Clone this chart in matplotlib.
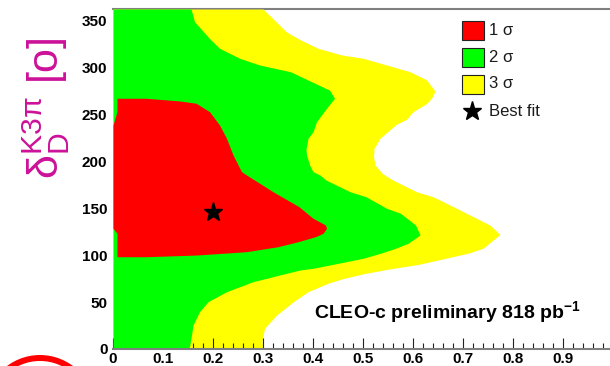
import matplotlib
matplotlib.use('Agg')
import matplotlib.pyplot as plt
import numpy as np
from matplotlib.patches import Rectangle, Ellipse
from matplotlib.lines import Line2D

plt.rcParams['font.family'] = ['Liberation Sans', 'DejaVu Sans']
plt.rcParams['mathtext.fontset'] = 'custom'
plt.rcParams['mathtext.rm'] = 'Liberation Sans'
plt.rcParams['mathtext.bf'] = 'Liberation Sans:bold'
plt.rcParams['mathtext.it'] = 'Liberation Sans:italic'
plt.rcParams['mathtext.sf'] = 'Liberation Sans'

# ---- data: contour boundaries (x-extent vs delta) ----
yellow_y = [0, 7.7, 22, 36, 50, 61, 70, 75, 80, 85, 90, 96.6, 102, 107.3, 112.6, 122,
            132, 144.6, 150, 162.3, 167.6, 180, 186.5, 196, 205, 214, 224.6, 230.6,
            239.6, 244.8, 253, 261.6, 267.3, 275, 287, 295.6, 302.8, 310, 313.5,
            320.6, 327, 331, 338, 349, 362.5]
yellow_x = [0.30, 0.298, 0.303, 0.327, 0.36, 0.39, 0.43, 0.46, 0.50, 0.55, 0.61, 0.665,
            0.71, 0.74, 0.752, 0.774, 0.754, 0.707, 0.687, 0.64, 0.607, 0.56, 0.54,
            0.524, 0.521, 0.522, 0.534, 0.547, 0.567, 0.587, 0.60, 0.627, 0.637, 0.644,
            0.627, 0.594, 0.547, 0.50, 0.457, 0.41, 0.385, 0.37, 0.347, 0.326, 0.30]

green_y = [0, 2.3, 14.8, 25.5, 39.7, 50.3, 61, 71.7, 75.6, 78.8, 84.1, 86, 89.5, 96.6,
           102, 107.3, 112.6, 121.5, 132.1, 144.6, 150, 162.3, 167.6, 180, 185.4, 189,
           195, 206.8, 213, 224.6, 231.6, 242.3, 256.6, 267.3, 276, 285, 295.6, 302.8,
           310, 320.6, 331, 349, 362.5]
green_x = [0.151, 0.153, 0.157, 0.16, 0.173, 0.19, 0.227, 0.28, 0.31, 0.333, 0.374, 0.40,
           0.434, 0.50, 0.535, 0.565, 0.59, 0.614, 0.605, 0.575, 0.547, 0.506, 0.474,
           0.426, 0.414, 0.40, 0.394, 0.387, 0.386, 0.39, 0.40, 0.407, 0.427, 0.443,
           0.433, 0.397, 0.355, 0.293, 0.253, 0.213, 0.193, 0.163, 0.156]

red_y = [98.3, 100.1, 103.7, 109, 114.3, 119.7, 123.3, 128.6, 132.1, 139.3, 151.6,
         167.6, 185.5, 189, 206.8, 224.6, 238.8, 253, 262, 264.4, 267.3]
red_xl = [0.008, 0.008, 0.008, 0.008, 0.008, 0.008, 0.008, 0.0, 0.0, 0.0, 0.0,
          0.0, 0.0, 0.0, 0.0, 0.0, 0.0, 0.008, 0.008, 0.008, 0.008]
red_xr = [0.066, 0.167, 0.267, 0.33, 0.37, 0.405, 0.42, 0.427, 0.425, 0.40, 0.372,
          0.32, 0.267, 0.257, 0.24, 0.227, 0.213, 0.193, 0.166, 0.134, 0.066]

best_x = [0.2]
best_y = [146]

xtick_vals = [0, 0.1, 0.2, 0.3, 0.4, 0.5, 0.6, 0.7, 0.8, 0.9]
xtick_labels = ['0', '0.1', '0.2', '0.3', '0.4', '0.5', '0.6', '0.7', '0.8', '0.9']
ytick_vals = [0, 50, 100, 150, 200, 250, 300, 350]

legend_labels = ['1 σ', '2 σ', '3 σ', 'Best fit']
C_RED, C_GREEN, C_YELLOW = '#FF0000', '#00FF00', '#FFFF00'

W, H = 610, 366
fig = plt.figure(figsize=(W / 100, H / 100), dpi=100)
fig.patch.set_facecolor('white')
ax = fig.add_axes([113 / W, 1 - 348.9 / H, 500 / W, (348.9 - 9) / H])
ax.set_xlim(0, 1)
ax.set_ylim(0, 362.5)
ax.set_axisbelow(False)

ax.fill_betweenx(yellow_y, 0, yellow_x, color=C_YELLOW, lw=0, zorder=1)
ax.fill_betweenx(green_y, 0, green_x, color=C_GREEN, lw=0, zorder=3)
ax.fill_betweenx(red_y, red_xl, red_xr, color=C_RED, lw=0, zorder=3.5)
ax.plot(best_x, best_y, marker='*', ms=14, color='black', ls='none', zorder=5)

for s in ['left', 'right']:
    ax.spines[s].set_visible(False)
ax.spines['top'].set_zorder(0.5)
ax.spines['top'].set_color('#808080')
ax.spines['top'].set_linewidth(1.5)
ax.spines['bottom'].set_zorder(4)
ax.spines['bottom'].set_color('#808080')
ax.spines['bottom'].set_linewidth(1.5)

ax.set_xticks(xtick_vals)
ax.set_xticklabels(xtick_labels)
ax.set_xticks(np.arange(0, 1.001, 0.02), minor=True)
ax.set_yticks(ytick_vals)
ax.set_yticklabels([str(v) for v in ytick_vals])
ax.tick_params(axis='x', which='major', direction='in', length=8, width=0.8,
               color='#222222', pad=2.5, labelsize=11)
ax.tick_params(axis='x', which='minor', direction='in', length=4, width=0.8,
               color='#222222')
ax.tick_params(axis='y', which='both', length=0, pad=4, labelsize=11)
for lbl in ax.get_xticklabels() + ax.get_yticklabels():
    lbl.set_fontweight('bold')

# y-axis title
fig.text(46 / W, 1 - 37 / H, r'$\mathrm{\delta_{D}^{K3\pi}}$ [o]', rotation=90,
         ha='center', va='top', fontsize=31, color='#CC1199')

# legend
sw_colors = [C_RED, C_GREEN, C_YELLOW]
row_cy = [30.5, 57.5, 84, 111]
for c, cy in zip(sw_colors, row_cy[:3]):
    fig.add_artist(Rectangle((462 / W, 1 - (cy + 9.5) / H), 22 / W, 19 / H,
                             transform=fig.transFigure, facecolor=c,
                             edgecolor='#222222', lw=0.8))
fig.add_artist(Line2D([472 / W], [1 - row_cy[3] / H], marker='*', ms=14,
                      color='black', ls='none', transform=fig.transFigure))
for lab, cy in zip(legend_labels, row_cy):
    fig.text(489 / W, 1 - cy / H, lab, ha='left', va='center', fontsize=12,
             color='#1a1a1a')

# annotation
fig.text(314 / W, 1 - 318.3 / H, r'CLEO-c preliminary 818 pb$^{\mathbf{-1}}$',
         ha='left', va='baseline', fontsize=14, fontweight='bold')

# red circle fragment at bottom-left
fig.add_artist(Ellipse((40 / W, 1 - 410 / H), 104 / W, 104 / H,
                       transform=fig.transFigure, fill=False,
                       edgecolor='#FF0000', lw=4.3))

fig.savefig('out.png', dpi=100)
